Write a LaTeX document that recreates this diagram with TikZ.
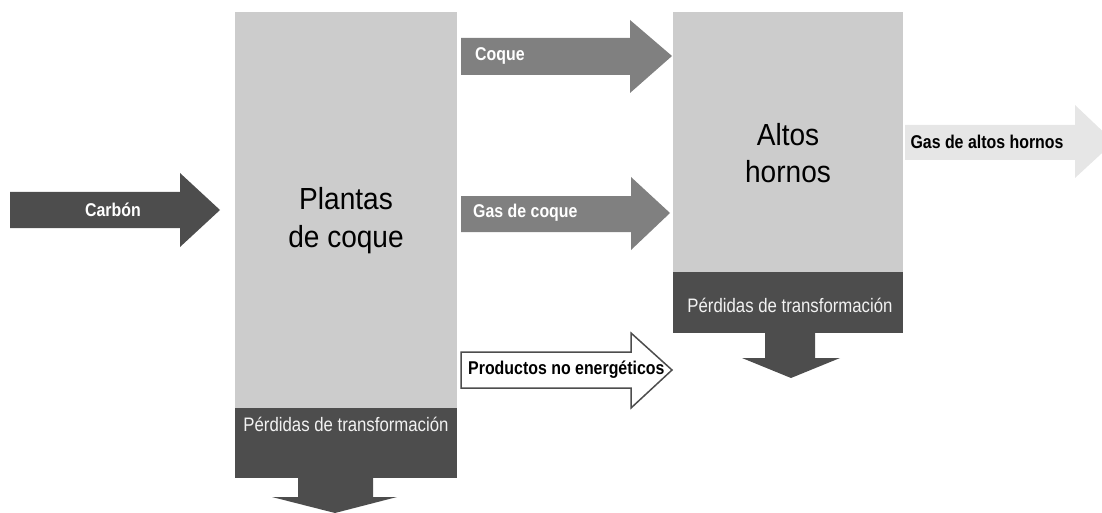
\documentclass[tikz,border=0pt]{standalone}
\usepackage{fontspec}
\setmainfont{Liberation Sans}
\newfontfamily\narrowfont[FakeStretch=0.86]{Liberation Sans}
\newfontfamily\bigfont[FakeStretch=0.92]{Liberation Sans}
\definecolor{dk}{HTML}{4D4D4D}
\definecolor{md}{HTML}{808080}
\definecolor{lt}{HTML}{CCCCCC}
\definecolor{xl}{HTML}{E6E6E6}
\definecolor{lossText}{HTML}{F2F2F2}
\begin{document}
\begin{tikzpicture}[x=1pt,y=-1pt,
  lbl/.style={font=\narrowfont\bfseries\fontsize{18.5}{21}\selectfont, inner sep=0pt},
  loss/.style={font=\narrowfont\fontsize{19.5}{23}\selectfont, text=lossText, inner sep=0pt},
  big/.style={font=\bigfont\fontsize{30.5}{36}\selectfont, inner sep=0pt},
  blockbox/.style={inner sep=0pt, anchor=north west}]
\clip (0,0) rectangle (1102,513);
% boxes
\node[blockbox, fill=lt, minimum width=222pt, minimum height=396pt] (plantas) at (235,12) {};
\node[blockbox, fill=dk, minimum width=222pt, minimum height=70pt] (lossA) at (235,408) {};
\node[blockbox, fill=lt, minimum width=230pt, minimum height=260pt] (altos) at (673,12) {};
\node[blockbox, fill=dk, minimum width=230pt, minimum height=61pt] (lossB) at (673,272) {};
% arrows
\fill[dk] (10,192) -- (180,192) -- (180,173) -- (220,210) -- (180,247) -- (180,228) -- (10,228) -- cycle;
\fill[md] (461,38) -- (630,38) -- (630,20) -- (672,56) -- (630,93) -- (630,75) -- (461,75) -- cycle;
\fill[md] (461,196) -- (631,196) -- (631,177) -- (670,213) -- (631,250) -- (631,232) -- (461,232) -- cycle;
\draw[fill=white, draw=dk, line width=1.5pt, line join=miter] (461,352) -- (631,352) -- (631,333) -- (672,370) -- (631,408) -- (631,388) -- (461,388) -- cycle;
\fill[xl] (905,125) -- (1075,125) -- (1075,105) -- (1114,142) -- (1075,178) -- (1075,160) -- (905,160) -- cycle;
\fill[dk] (298,478) -- (373,478) -- (373,497) -- (397,497) -- (335,513) -- (272,497) -- (298,497) -- cycle;
\fill[dk] (765,333) -- (815,333) -- (815,358) -- (840,358) -- (791,378) -- (742,358) -- (765,358) -- cycle;
% labels
\node[lbl, text=white] (carbon) at (113,210) {Carbón};
\node[lbl, text=white, anchor=west] (coque) at (475,56) {Coque};
\node[lbl, text=white, anchor=west] (gascoque) at (473,213) {Gas de coque};
\node[lbl, text=black, anchor=west] (prod) at (468,370) {Productos no energéticos};
\node[lbl, text=black] (gasaltos) at (987,142) {Gas de altos hornos};
\node[loss] (lossAtext) at (346,424) {Pérdidas de transformación};
\node[loss] (lossBtext) at (790,305) {Pérdidas de transformación};
\node[big] (plantas1) at (346,199) {Plantas};
\node[big] (plantas2) at (346,240) {de coque};
\node[big] (altos1) at (788,135) {Altos};
\node[big] (altos2) at (788,172) {hornos};
\end{tikzpicture}
\end{document}
